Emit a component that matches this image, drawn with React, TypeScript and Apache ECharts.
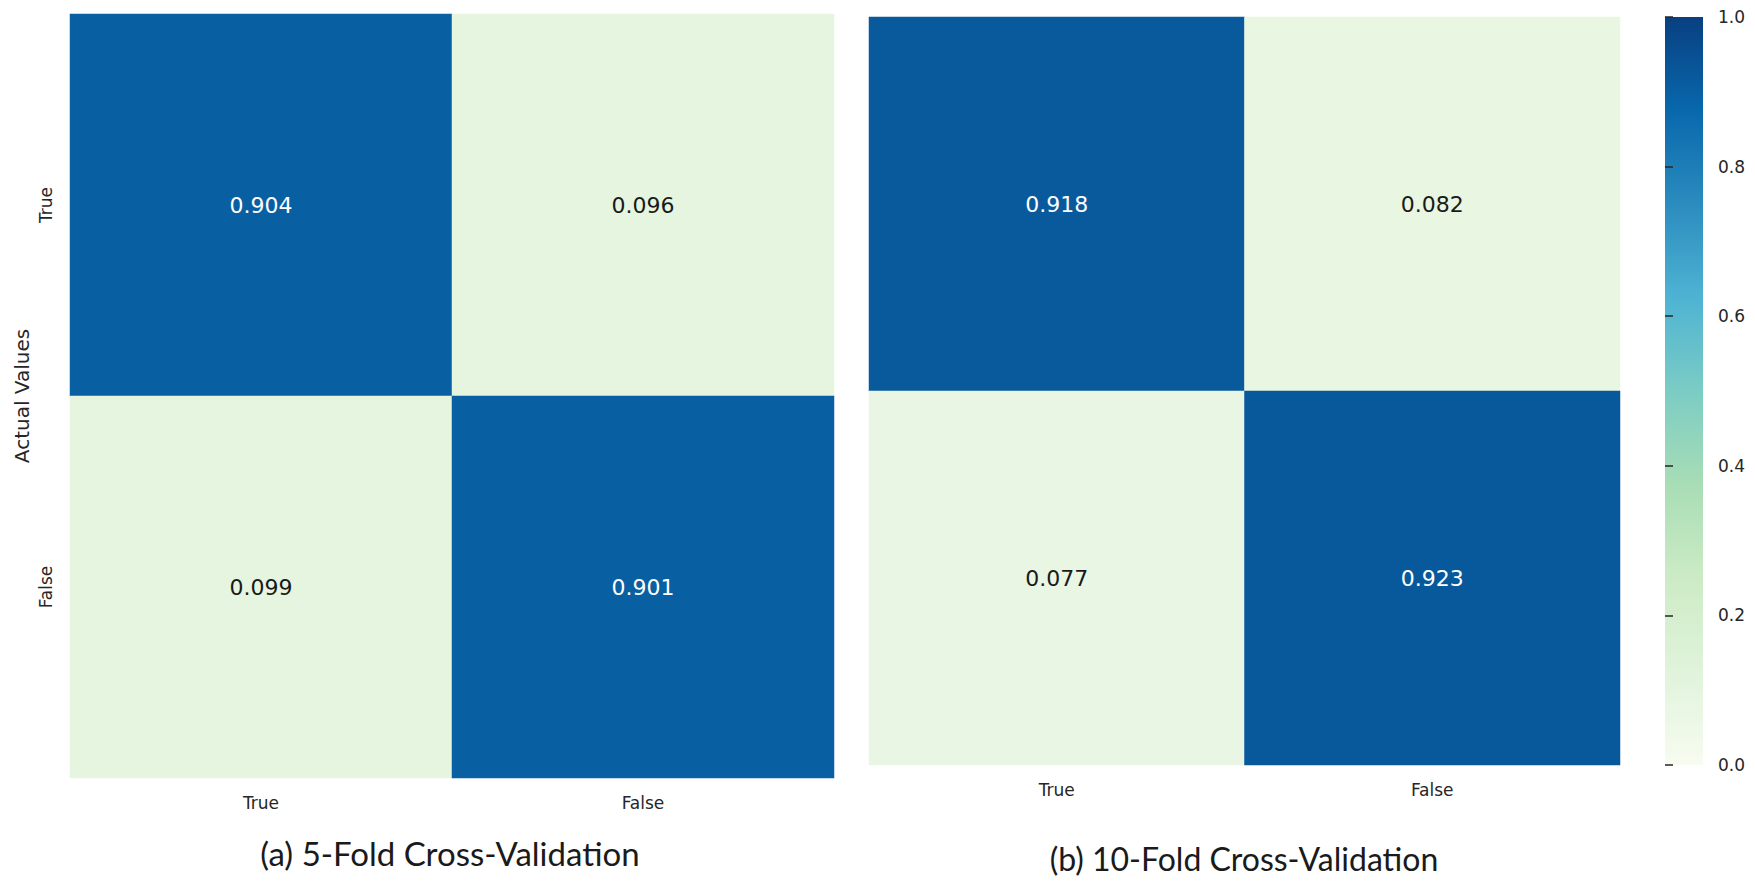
import React, { useEffect, useRef } from "react";
import * as echarts from "echarts";

const classes = ["True", "False"];
const values5Fold = [
  [0.904, 0.096],
  [0.099, 0.901],
];
const values10Fold = [
  [0.918, 0.082],
  [0.077, 0.923],
];
const colorbarTicks = [0, 0.2, 0.4, 0.6, 0.8, 1.0];
const gnbu = ["#f7fcf0", "#e0f3db", "#ccebc5", "#a8ddb5", "#7bccc4", "#4eb3d3", "#2b8cbe", "#0868ac", "#084081"];
const titles = ["(a) 5-Fold Cross-Validation", "(b) 10-Fold Cross-Validation"];

function toCells(m: number[][]) {
  const out: any[] = [];
  m.forEach((row, r) => row.forEach((v, c) => out.push([c, r, v])));
  return out;
}

export default function App() {
  const ref = useRef<HTMLDivElement>(null);
  useEffect(() => {
    const chart = echarts.init(ref.current!, null, { renderer: "svg" });
    const grids = [
      { left: 70, top: 14, width: 764, height: 764 },
      { left: 869, top: 17, width: 751, height: 748 },
      { left: 1665, top: 17, width: 38, height: 748 },
    ];
    const tickFont = { fontFamily: "DejaVu Sans", fontSize: 17, color: "#262626" };
    const catAxis = (gi: number, extra: any) => ({
      type: "category",
      gridIndex: gi,
      data: classes,
      axisLine: { show: false },
      axisTick: { show: false },
      splitArea: { show: false },
      axisLabel: { ...tickFont },
      ...extra,
    });
    const makeSeries = (gi: number, m: number[][]) => ({
      type: "heatmap",
      xAxisIndex: gi,
      yAxisIndex: gi,
      data: toCells(m).map((d) => ({
        value: d,
        label: { color: d[2] > 0.5 ? "#ffffff" : "#1a1a1a" },
      })),
      label: {
        show: true,
        fontFamily: "DejaVu Sans",
        fontSize: 22,
        formatter: (p: any) => p.value[2].toFixed(3),
      },
      emphasis: { disabled: true },
      itemStyle: { borderWidth: 0 },
    });
    const option: any = {
      animation: false,
      backgroundColor: "#ffffff",
      grid: grids,
      xAxis: [
        catAxis(0, { axisLabel: { ...tickFont, margin: 16 } }),
        catAxis(1, { axisLabel: { ...tickFont, margin: 16 } }),
        { type: "value", gridIndex: 2, show: false, min: 0, max: 1 },
      ],
      yAxis: [
        catAxis(0, {
          inverse: true,
          name: "Actual Values",
          nameLocation: "middle",
          nameGap: 38,
          nameRotate: 90,
          nameTextStyle: { fontFamily: "DejaVu Sans", fontSize: 20, color: "#262626" },
          axisLabel: { ...tickFont, rotate: 90, margin: 16 },
        }),
        catAxis(1, { inverse: true, axisLabel: { show: false } }),
        {
          type: "value",
          gridIndex: 2,
          position: "right",
          min: 0,
          max: 1,
          interval: 0.2,
          axisLine: { show: false },
          splitLine: { show: false },
          axisTick: { show: true, length: 8, lineStyle: { color: "#262626", width: 1.5 } },
          axisLabel: {
            ...tickFont,
            margin: 15,
            formatter: (v: number) => v.toFixed(1),
          },
        },
      ],
      visualMap: {
        show: false,
        min: 0,
        max: 1,
        seriesIndex: [0, 1],
        dimension: 2,
        inRange: { color: gnbu },
      },
      graphic: [
        {
          type: "rect",
          shape: { x: 1665, y: 17, width: 38, height: 748 },
          style: {
            fill: new echarts.graphic.LinearGradient(
              0,
              1,
              0,
              0,
              gnbu.map((c, i) => ({ offset: i / (gnbu.length - 1), color: c }))
            ),
          },
          z: -1,
        },
        {
          type: "text",
          x: 450,
          y: 853,
          style: {
            text: titles[0],
            fontFamily: "Lato",
            fontSize: 33,
            fill: "#1a1a1a",
            align: "center",
            verticalAlign: "middle",
          },
        },
        {
          type: "text",
          x: 1244,
          y: 858,
          style: {
            text: titles[1],
            fontFamily: "Lato",
            fontSize: 32,
            fill: "#1a1a1a",
            align: "center",
            verticalAlign: "middle",
          },
        },
      ],
      series: [
        makeSeries(0, values5Fold),
        makeSeries(1, values10Fold),
        {
          type: "scatter",
          xAxisIndex: 2,
          yAxisIndex: 2,
          data: colorbarTicks.map((t) => [0.5, t]),
          symbolSize: 0,
          silent: true,
        },
      ],
    };
    chart.setOption(option);
    return () => chart.dispose();
  }, []);
  return (
    <div
      ref={ref}
      style={{ position: "fixed", left: 0, top: 0, width: 1755, height: 882 }}
    />
  );
}
